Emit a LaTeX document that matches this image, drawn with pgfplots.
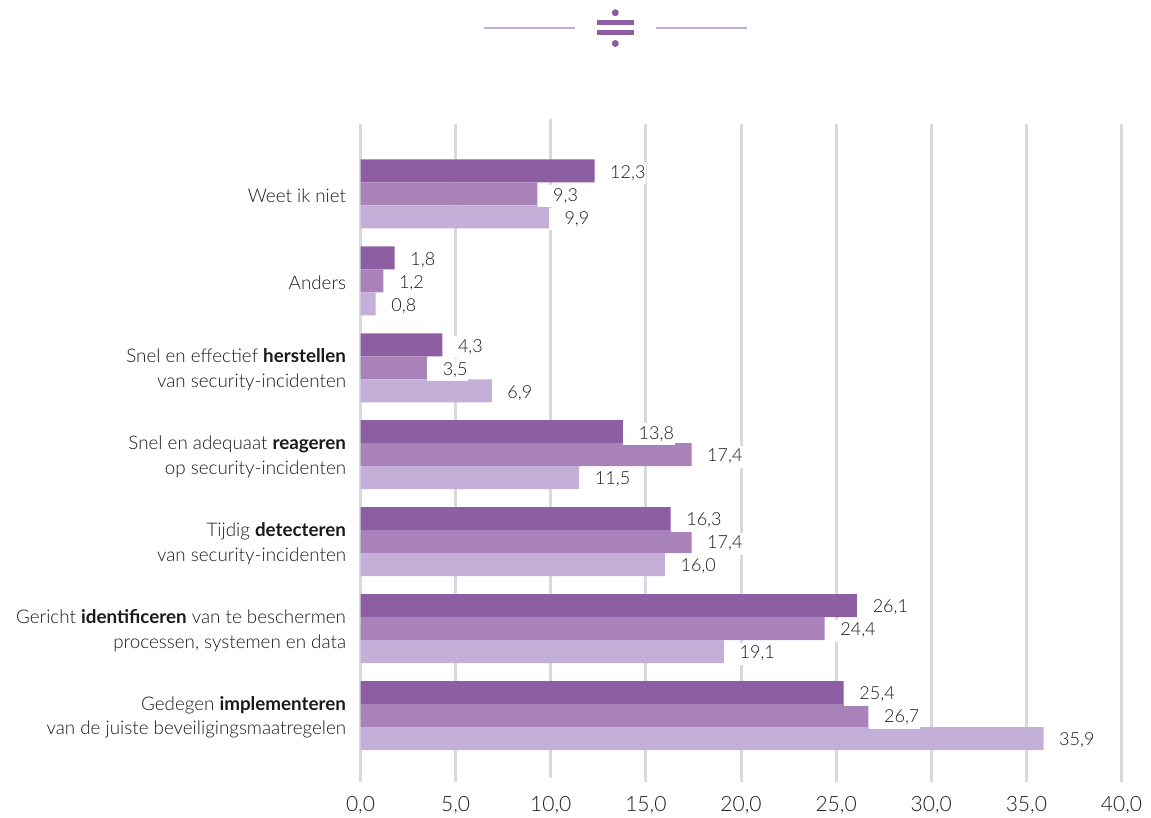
\documentclass[border=0pt]{standalone}
\usepackage{fontspec}
\setmainfont{Lato}[UprightFont=* Light,BoldFont=* Bold]
\usepackage{pgfplots}
\pgfplotsset{compat=1.18}
\definecolor{darkbar}{HTML}{8E5EA2}
\definecolor{midbar}{HTML}{A882B8}
\definecolor{lightbar}{HTML}{C3AFD7}
\definecolor{gridgrey}{HTML}{D5DAE1}
\definecolor{rulelilac}{HTML}{C3AAD2}
\definecolor{labeltext}{HTML}{1A1A1A}
\pgfplotstableread{
pos a b c
0 25.4 26.7 35.9
1 26.1 24.4 19.1
2 16.3 17.4 16.0
3 13.8 17.4 11.5
4 4.3 3.5 6.9
5 1.8 1.2 0.8
6 12.3 9.3 9.9
}\goalscores
\begin{document}
\begin{tikzpicture}[x=1pt,y=1pt]
\useasboundingbox (0,0) rectangle (1151,817);
% header ornament
\draw[rulelilac,line width=1.6pt] (484,789) -- (575,789) (656,789) -- (747,789);
\fill[darkbar] (597,791.5) rectangle (634,797);
\fill[darkbar] (597,781.5) rectangle (634,787);
\fill[darkbar] (615.3,804.3) circle (3.5);
\fill[darkbar] (615.3,773.5) circle (3.5);
\begin{axis}[
  at={(360.5pt,101.5pt)},anchor=origin,
  scale only axis,width=761pt,height=658pt,
  xmin=0,xmax=40,ymin=-0.765,ymax=6.805,
  clip=false,
  xbar,bar width=23pt,
  axis line style={draw=none},
  tick style={draw=none},
  xtick={0,5,15,20,25,30,35,40},
  extra x ticks={10},
  extra x tick style={grid=none},
  ytick={0,...,6},
  yticklabels={
    {Gedegen \textbf{implementeren}\\van de juiste beveiligingsmaatregelen},
    {Gericht \textbf{identificeren} van te beschermen\\processen, systemen en data},
    {Tijdig \textbf{detecteren}\\van security-incidenten},
    {Snel en adequaat \textbf{reageren}\\op security-incidenten},
    {Snel en effectief \textbf{herstellen}\\van security-incidenten},
    {Anders},
    {Weet ik niet}},
  xmajorgrids,
  major grid style={gridgrey,line width=3pt},
  /pgf/number format/.cd,assume math mode=true,fixed,fixed zerofill,precision=1,use comma,1000 sep={},
  /pgfplots/.cd,
  xticklabel style={font=\fontsize{21}{24}\selectfont,text=labeltext,inner sep=0pt,yshift=-14pt},
  yticklabel style={font=\fontsize{18.8}{24.5}\selectfont,text=labeltext,align=right,inner sep=0pt,xshift=-10pt,yshift=-2pt},
  nodes near coords={\hspace{15pt}\pgfmathprintnumber{\pgfplotspointmeta}},
  nodes near coords style={font=\fontsize{18}{20}\selectfont,text=labeltext,anchor=west,fill=white,
    inner xsep=0.5pt,inner ysep=0pt,minimum height=22pt,yshift=-2pt},
]
% the gridline at 10 sits a little higher than the others
\draw[gridgrey,line width=3pt] (axis cs:10,6.863) -- (axis cs:10,-0.719);
\addplot[fill=darkbar,draw=none,bar shift=23pt] table[x=a,y=pos]{\goalscores};
\addplot[fill=midbar,draw=none,bar shift=0pt] table[x=b,y=pos]{\goalscores};
\addplot[fill=lightbar,draw=none,bar shift=-23pt] table[x=c,y=pos]{\goalscores};
\end{axis}
\end{tikzpicture}
\end{document}
